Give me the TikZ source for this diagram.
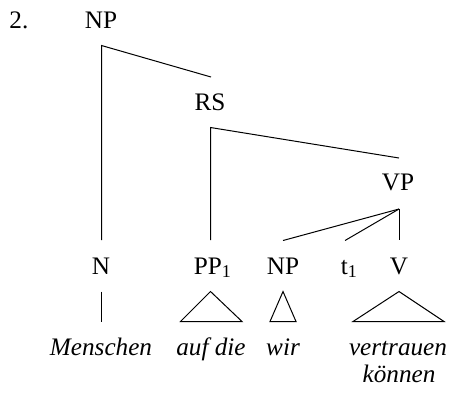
\documentclass[tikz,border=0pt]{standalone}
\usepackage{fontspec}
\setmainfont{Liberation Serif}
\newcommand{\mysub}[1]{\raisebox{-0.3ex}{\fontsize{9}{10}\selectfont #1}}
\begin{document}
\begin{tikzpicture}[x=0.5pt,y=-0.5pt,
  lab/.style={inner sep=0pt,font=\fontsize{12.6}{14}\selectfont,anchor=base},
  leaf/.style={lab,font=\fontsize{12.6}{14}\selectfont\itshape},
  edge/.style={line width=0.5pt,line join=miter}]
\useasboundingbox (0,0) rectangle (453,393);
% labels
\node[lab,anchor=base west] (num) at (9,28) {2.};
\node[lab] (np0) at (101,28) {NP};
\node[lab] (rs) at (210,110) {RS};
\node[lab] (vp) at (398,190) {VP};
\node[lab] (n) at (101,274) {N};
\node[lab,anchor=base west] (pp) at (193.5,274) {PP\mysub{1}};
\node[lab] (np1) at (283,274) {NP};
\node[lab,anchor=base west] (t) at (340.5,274) {t\mysub{1}};
\node[lab] (v) at (399,274) {V};
\node[leaf] (menschen) at (101,355) {Menschen};
\node[leaf] (aufdie) at (211,355) {auf die};
\node[leaf] (wir) at (283,355) {wir};
\node[leaf] (vertrauen) at (398,355) {vertrauen};
\node[leaf] (koennen) at (399,382) {können};
% branch points
\coordinate (npB) at (101.5,45.5);
\coordinate (rsT) at (211,77);
\coordinate (rsB) at (210.5,127.5);
\coordinate (vpT) at (399,158);
\coordinate (vpB) at (399,209);
\coordinate (nT) at (101.5,240);
\coordinate (ppT) at (210.5,240);
\coordinate (np1T) at (283,240.5);
\coordinate (tT) at (345,240.5);
\coordinate (vT) at (399,240);
\coordinate (nB) at (101.5,291.5);
\coordinate (mT) at (101.5,321.5);
\coordinate (ppB) at (210.5,291.5);
\coordinate (ppL) at (180.5,321.5);
\coordinate (ppR) at (242,321.5);
\coordinate (npB2) at (283,291.5);
\coordinate (npL) at (270,321.5);
\coordinate (npR) at (296,321.5);
\coordinate (vB) at (399,291.5);
\coordinate (vL) at (353,321.5);
\coordinate (vR) at (444,321.5);
% edges
\draw[edge] (rsT) -- (npB) -- (nT);
\draw[edge] (vpT) -- (rsB) -- (ppT);
\draw[edge] (vpB) -- (np1T);
\draw[edge] (vpB) -- (tT);
\draw[edge] (vpB) -- (vT);
\draw[edge] (nB) -- (mT);
\draw[edge] (ppB) -- (ppL) -- (ppR) -- cycle;
\draw[edge] (npB2) -- (npL) -- (npR) -- cycle;
\draw[edge] (vB) -- (vL) -- (vR) -- cycle;
\end{tikzpicture}
\end{document}
